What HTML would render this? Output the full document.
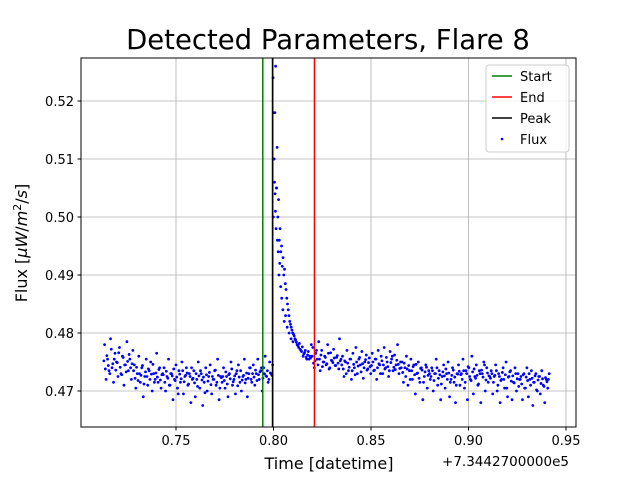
<!DOCTYPE html>
<html><head><meta charset="utf-8"><style>
body{margin:0;background:#fff;font-family:"Liberation Sans","DejaVu Sans",sans-serif}
text{font-family:"DejaVu Sans","Liberation Sans",sans-serif}
</style></head><body>
<svg id="chart" width="640" height="480" viewBox="0 0 640 480" xmlns="http://www.w3.org/2000/svg">
<rect width="640" height="480" fill="#fff"/>
<text x="328" y="49" text-anchor="middle" font-size="27.5">Detected Parameters, Flare 8</text>
<g id="grid"></g><g id="pts"></g><g id="vlines"></g>
<rect x="81" y="58" width="495" height="369" fill="none" stroke="#000" stroke-width="1"/>
<g id="ticks"></g>
<text x="329" y="469" text-anchor="middle" font-size="16">Time [datetime]</text>
<text x="569" y="466" text-anchor="end" font-size="13.5">+7.3442700000e5</text>
<text transform="translate(27,243) rotate(-90)" text-anchor="middle" font-size="16">Flux [<tspan font-style="italic">μW</tspan>/<tspan font-style="italic">m</tspan><tspan font-size="11" dy="-6">2</tspan><tspan dy="6">/</tspan><tspan font-style="italic">s</tspan>]</text>
<g>
<rect x="486" y="65" width="83" height="87" fill="#fff" fill-opacity="0.8" stroke="#ccc" rx="3"/>
<line x1="492" y1="76" x2="512" y2="76" stroke="green" stroke-width="1.5"/><text x="520" y="81" font-size="13">Start</text>
<line x1="492" y1="97" x2="512" y2="97" stroke="red" stroke-width="1.5"/><text x="520" y="102" font-size="13">End</text>
<line x1="492" y1="118" x2="512" y2="118" stroke="#000" stroke-width="1.5"/><text x="520" y="123" font-size="13">Peak</text>
<circle cx="502" cy="139" r="1.3" fill="blue"/><text x="520" y="144" font-size="13">Flux</text>
</g>
</svg>
<script>
const xTicks=[0.75,0.80,0.85,0.90,0.95];
const xTickLabels=["0.75","0.80","0.85","0.90","0.95"];
const yTicks=[0.47,0.48,0.49,0.50,0.51,0.52];
const yTickLabels=["0.47","0.48","0.49","0.50","0.51","0.52"];
const tStart=0.713, tEnd=0.941;
const fluxBase=[52,38,61,44,30,72,47,55,36,49,66,41,28,58,45,33,51,63,40,47,
35,22,41,18,30,27,44,12,33,25,38,20,29,46,15,31,24,37,19,28,
28,15,34,22,10,30,26,38,18,24,-5,29,21,35,16,27,31,12,25,40,
22,14,30,8,26,35,19,24,-3,28,17,32,11,25,20,36,15,27,5,23,
25,18,33,12,28,21,38,16,26,30,9,24,35,19,27,14,31,22,40,20,
30,24,36,18,28,33,40,22,30,26,35,20,31,27,300,480,350,300,260,240,
215,200,185,160,140,120,110,100,95,88,80,75,72,68,60,66,58,62,55,57,
60,48,52,70,45,55,62,42,50,58,47,65,40,53,49,57,44,61,38,52,
45,38,52,30,48,41,55,35,46,28,50,43,58,33,47,40,54,36,49,42,
44,50,36,55,40,47,30,52,45,38,58,42,35,49,60,41,37,53,46,39,
40,32,48,25,38,44,20,35,42,28,46,31,22,39,36,15,33,41,27,30,
25,35,18,30,40,22,28,12,33,26,38,20,31,15,27,36,24,10,29,34,
28,20,35,15,30,42,25,18,33,38,22,27,12,30,36,24,45,19,31,26,
22,30,15,27,35,10,25,18,32,20,28,5,24,33,17,26,14,30,21,8,
20,12,28,5,24,18,30,10,22,15,26,2,19,25,13,21,8,23,16,20];
const fluxBase2=[80,20,55,35,90,40,15,65,50,25,75,30,60,10,45,85,35,55,20,70,
45,5,30,60,15,40,-10,25,55,10,35,50,0,30,20,65,15,40,5,30,
40,0,25,55,10,30,-15,20,45,5,35,15,50,-5,25,40,10,30,-20,20,
35,-10,20,50,5,30,-25,15,40,0,25,45,-5,20,35,10,55,-15,25,15,
40,5,25,-10,30,50,10,20,-5,35,45,15,0,25,55,20,-10,30,40,15,
45,10,30,55,20,35,0,40,60,25,15,50,30,45,400,560,420,330,280,250,
230,210,175,150,130,115,105,98,90,84,78,82,70,76,64,70,55,68,60,80,
75,40,65,55,85,35,70,50,60,45,80,38,66,52,72,44,58,48,90,55,
60,25,50,70,35,55,20,65,40,75,30,55,45,68,22,50,62,38,57,30,
65,35,55,20,70,45,60,30,75,40,50,25,68,55,35,62,45,80,30,50,
50,15,40,60,10,35,55,20,45,-5,30,50,15,40,-15,25,45,5,35,20,
40,0,30,55,10,35,-15,25,45,5,30,50,-10,20,40,15,-20,30,45,10,
30,55,5,35,-15,40,20,60,-5,25,45,10,35,-20,30,50,0,40,15,25,
35,-5,25,45,0,30,-20,20,40,5,50,-10,25,35,-15,15,40,0,30,20,
25,-15,30,5,40,-10,20,35,-25,15,30,0,25,-5,35,10,-20,20,5,30];
const flareTimes=[0.7998,0.8000,0.8002,0.8005,0.8008,0.8010,0.8013,0.8016,0.8020,0.8024,0.8028,0.8032,0.8037,0.8042,0.8048,0.8055,0.8062,0.807,0.808,0.809,0.810];
const flareFlux=[0.524,0.518,0.510,0.506,0.504,0.501,0.498,0.505,0.496,0.494,0.490,0.492,0.488,0.486,0.484,0.482,0.483,0.481,0.480,0.479,0.4785];
const startT=0.7945, peakT=0.7995, endT=0.821;
const X0=81,X1=576,Y0=58,Y1=427;
const xs=v=>176+(v-0.75)*1950;
const ys=v=>391-(v-0.47)*5800;
const NS="http://www.w3.org/2000/svg";
function mk(tag,parent,attrs){const e=document.createElementNS(NS,tag);for(const k in attrs)e.setAttribute(k,attrs[k]);parent.appendChild(e);return e;}
const grid=document.getElementById('grid'),ticks=document.getElementById('ticks'),pts=document.getElementById('pts'),vl=document.getElementById('vlines');
xTicks.forEach((t,i)=>{const x=xs(t);
 const g=mk('line',grid,{x1:x,x2:x,y1:Y0,y2:Y1,stroke:'#b0b0b0','stroke-width':0.8});
 
 
 mk('line',ticks,{x1:x,x2:x,y1:Y1,y2:Y1+3.5,stroke:'#000'});
 const tx=mk('text',ticks,{x:x,y:Y1+18,'text-anchor':'middle','font-size':13});tx.textContent=xTickLabels[i];
 
 });
yTicks.forEach((t,i)=>{const y=ys(t);
 const g=mk('line',grid,{x1:X0,x2:X1,y1:y,y2:y,stroke:'#b0b0b0','stroke-width':0.8});
 
 
 mk('line',ticks,{x1:X0-3.5,x2:X0,y1:y,y2:y,stroke:'#000'});
 const tx=mk('text',ticks,{x:X0-7,y:y+5,'text-anchor':'end','font-size':13});tx.textContent=yTickLabels[i];
 
 });
const step=(tEnd-tStart)/(fluxBase.length-1);
fluxBase.forEach((f,i)=>{const c=mk('circle',pts,{cx:xs(tStart+i*step),cy:ys(0.47+f*1e-4),r:1.4,fill:'blue'});
 
 });
fluxBase2.forEach((f,i)=>{const c=mk('circle',pts,{cx:xs(tStart+(i+0.5)*step),cy:ys(0.47+f*1e-4),r:1.4,fill:'blue'});
 
 });
flareTimes.forEach((t,i)=>{const c=mk('circle',pts,{cx:xs(t),cy:ys(flareFlux[i]),r:1.4,fill:'blue'});
 
 });
[[startT,'green','start-line'],[peakT,'#000','peak-line'],[endT,'red','end-line']].forEach(([t,c,n])=>{
 const l=mk('line',vl,{x1:xs(t),x2:xs(t),y1:Y0,y2:Y1,stroke:c,'stroke-width':1.5});
 
 });
</script>
</body></html>
